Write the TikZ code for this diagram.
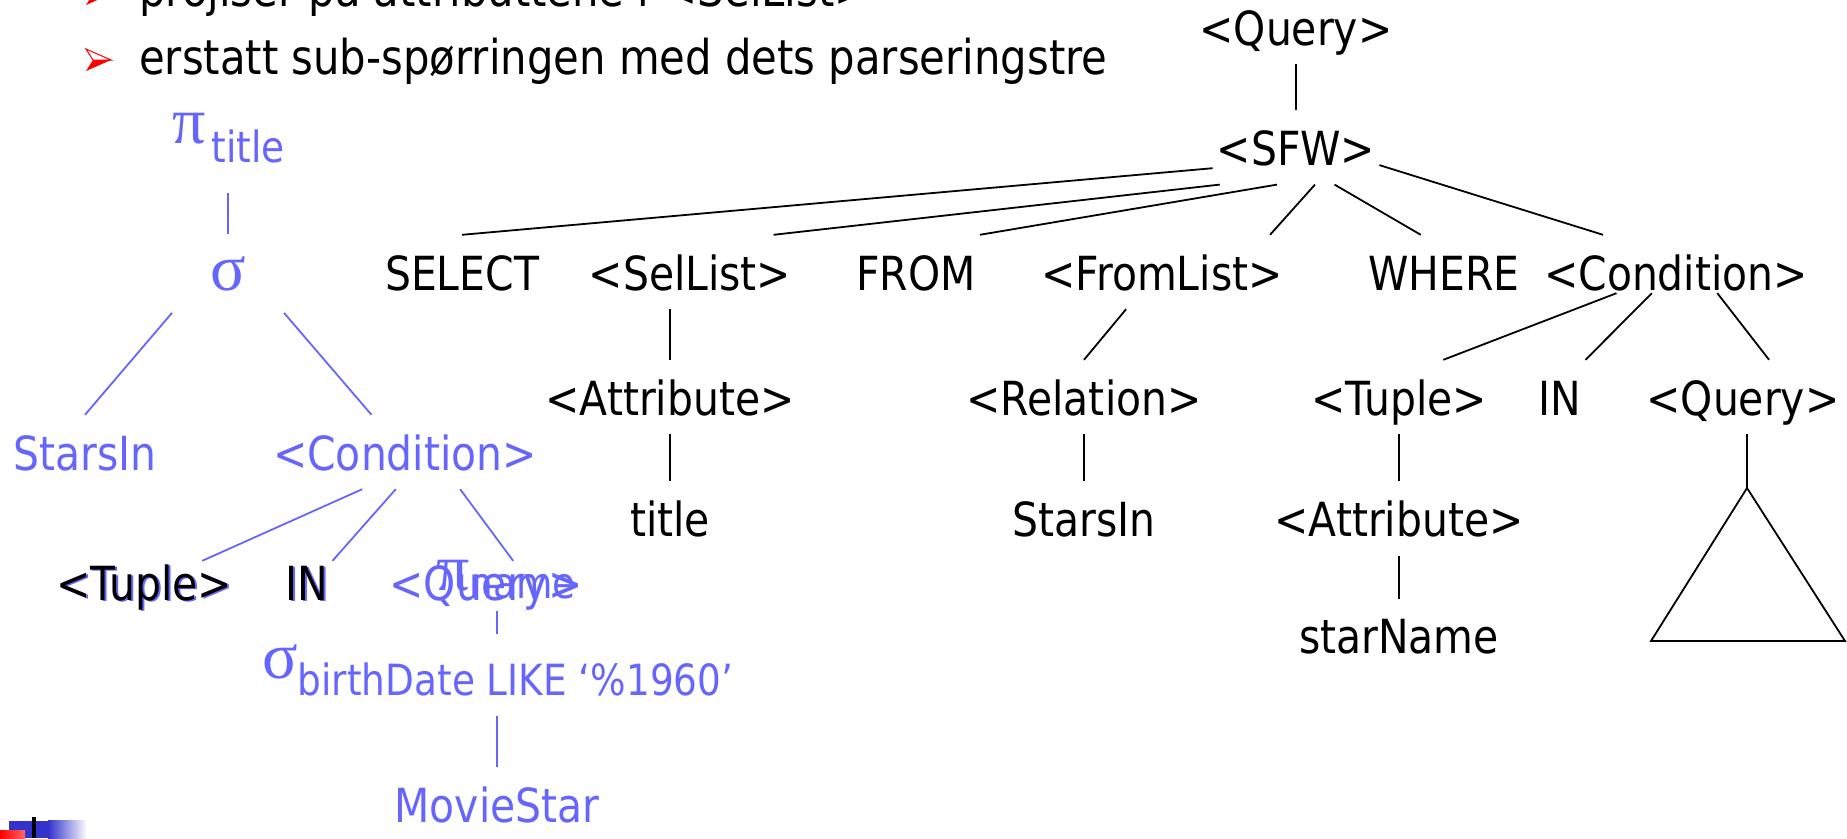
\documentclass[tikz,border=0pt]{standalone}
\usepackage{fontspec}
\setmainfont[FakeStretch=0.87]{DejaVu Sans}
\newfontfamily\grk{Liberation Serif}
\usetikzlibrary{positioning}
\definecolor{qblue}{RGB}{102,102,255}
\definecolor{logoblue}{RGB}{51,51,204}
\newcommand\treesize{\fontsize{47}{52}\selectfont}
\newcommand\subsize{\fontsize{43}{46}\selectfont}
\newcommand\bigsym{\fontsize{66}{70}\selectfont}
\newcommand\bulsize{\fontsize{48}{52}\selectfont}

\begin{document}
\begin{tikzpicture}[x=1pt, y=-1pt,
      node distance=47pt,
      lbl/.style={font=\treesize, text height=36pt, text depth=0pt, inner xsep=4pt, inner ysep=19pt},
      blbl/.style={lbl, text=qblue},
      lowrow/.style={inner ysep=3pt},
      link/.style={line width=1.8pt},
      blink/.style={link, draw=qblue}
    ]
    \useasboundingbox (0,0) rectangle (1847,838);

    % bullet lines
    \draw[red, line width=1pt] (86,-17) -- (111,-6) -- (93,-6) -- cycle;
    \fill[red] (93,-6) -- (111,-6) -- (86,5) -- cycle;
    \draw[red, line width=1pt] (86,49) -- (111,60) -- (93,60) -- cycle;
    \fill[red] (93,60) -- (111,60) -- (86,71) -- cycle;
    \node (bul1) [anchor=base west, font=\bulsize, inner sep=0pt] at (139,6) {projiser på attributtene i <SelList>};
    \node (bul2) [anchor=base west, font=\bulsize, inner sep=0pt] at (139,74) {erstatt sub-spørringen med dets parseringstre};

    % parse tree
    \node (q0) [lbl, anchor=base] at (1296,45) {<Query>};
    \node (sfw) [lbl, below=46pt of q0] {<SFW>};

    \node (select) [lbl, anchor=base] at (462,290) {SELECT};
    \node (sellist) [lbl, anchor=base] at (690,290) {<SelList>};
    \node (from) [lbl, anchor=base] at (916,290) {FROM};
    \node (fromlist) [lbl, anchor=base] at (1162,290) {<FromList>};
    \node (where) [lbl, anchor=base] at (1444,290) {WHERE};
    \node (cond) [lbl, anchor=base] at (1676,290) {<Condition>};

    \node (attrA) [lbl, anchor=base] at (670,415) {<Attribute>};
    \node (title) [lbl, below=of attrA] {title};
    \node (relation) [lbl, anchor=base] at (1084,415) {<Relation>};
    \node (starsR) [lbl, below=of relation] {StarsIn};
    \node (tuple) [lbl, anchor=base] at (1399,415) {<Tuple>};
    \node (inR) [lbl, anchor=base] at (1560,415) {IN};
    \node (queryR) [lbl, anchor=base] at (1743,415) {<Query>};
    \node (attrB) [lbl, below=of tuple] {<Attribute>};
    \node (starname) [lbl, below=43pt of attrB] {starName};
    \coordinate (apex) at (1747,488);

    \draw[link] (q0) -- (sfw);
    \draw[link] (sfw.194) -- (select.north);
    \draw[link] (sfw.206) -- (sellist.24);
    \draw[link] (sfw.243) -- (from.north east);
    \draw[link] (sfw.297) -- (fromlist.19);
    \draw[link] (sfw.316) -- (where.122);
    \draw[link] (sfw.348) -- (cond.153);
    \draw[link] (sellist.south -| attrA.north) -- (attrA.north);
    \draw[link] (attrA) -- (title);
    \draw[link] (fromlist.226) -- (relation.north);
    \draw[link] (relation) -- (starsR);
    \draw[link] ([yshift=16pt]cond.212) -- (tuple.40);
    \draw[link] ([yshift=16pt]cond.237) -- (inR.north east);
    \draw[link] ([yshift=16pt]cond.318) -- (queryR.55);
    \draw[link] (tuple) -- (attrB);
    \draw[link] (attrB) -- (starname);
    \draw[link] (queryR.south -| apex) -- (apex);
    \draw[link, line join=miter] (apex) -- (1651,641) -- (1845,641) -- cycle;

    % algebra tree
    \node (pititle) [anchor=base west, text=qblue, inner sep=0pt, inner ysep=30pt] at (172,143) {{\grk\bigsym π}\hspace{6pt}\raisebox{-19pt}{\subsize title}};
    \node (sigma) [anchor=base, text=qblue, font=\grk\bigsym, inner xsep=38pt, inner ysep=22pt] at (228,290) {σ};
    \node (starsL) [blbl, anchor=base] at (85,470) {StarsIn};
    \node (condL) [blbl, anchor=base] at (405,470) {<Condition>};
    \node (tupleLs) [blbl, lowrow, anchor=base] at (146,601) {<Tuple>};
    \node (tupleL) [lbl, lowrow, anchor=base] at (144,600) {<Tuple>};
    \node (inLs) [blbl, lowrow, anchor=base] at (309,601) {IN};
    \node (inL) [lbl, lowrow, anchor=base] at (307,600) {IN};
    \node (queryL) [blbl, lowrow, anchor=base] at (486,600) {<Query>};
    \node (piname) [anchor=base west, text=qblue, inner sep=0pt] at (436,590) {{\grk\bigsym π}\raisebox{-8pt}{\subsize name}};
    \node (sbirth) [anchor=base west, text=qblue, inner xsep=0pt, inner ysep=10pt] at (262,678) {{\grk\bigsym σ}\raisebox{-17pt}{\subsize birthDate LIKE ‘\%1960’}};
    \node (mstar) [blbl, anchor=base] at (497,822) {MovieStar};

    \draw[blink] (sigma.north |- pititle.south) -- (sigma.north);
    \draw[blink] (sigma.south west) -- (starsL.north);
    \draw[blink] (sigma.south east) -- (condL.132);
    \draw[blink] (condL.221) -- (tupleL.20);
    \draw[blink] (condL.256) -- (inL.north east);
    \draw[blink] (condL.326) -- (queryL.38);
    \draw[blink, shorten <=8pt] (queryL.south -| mstar.north) -- (sbirth.north -| mstar.north);
    \draw[blink, shorten <=10pt] (sbirth.south -| mstar.north) -- (mstar.north);

    % logo
    \fill[logoblue] (9,821) rectangle (48,838);
    \shade[left color=logoblue, right color=white] (48,820) rectangle (87,838);
    \shade[left color=red, right color=red!60!white] (0,830) rectangle (25,838);
    \fill[black] (32,817) rectangle (36,838);
\end{tikzpicture}
\end{document}
